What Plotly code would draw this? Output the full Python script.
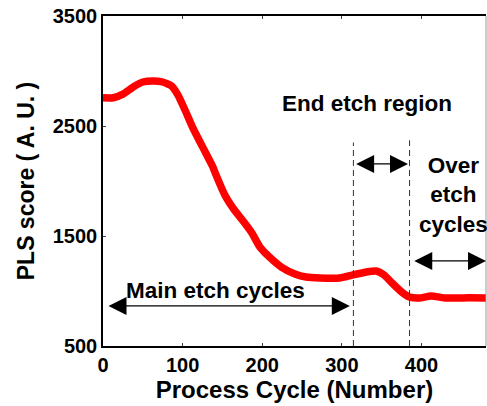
import plotly.graph_objects as go

# Data
cycle = [0, 13, 25, 38, 50, 63, 75, 86, 94, 103, 113, 125, 138, 140, 153, 165, 175,
         187, 197, 209, 224, 241, 255, 272, 297, 313, 331, 343, 353, 363, 375, 385,
         397, 412, 431, 460, 481]
pls = [2757, 2757, 2790, 2855, 2900, 2910, 2900, 2864, 2782, 2645, 2480, 2310, 2127,
       2090, 1873, 1736, 1645, 1527, 1400, 1309, 1218, 1155, 1127, 1118, 1118, 1145,
       1173, 1182, 1145, 1073, 991, 945, 936, 955, 936, 938, 936]

x_ticks = [0, 100, 200, 300, 400]
y_ticks = [500, 1500, 2500, 3500]

boundaries = [314.5, 385]
boundary_tops = [2350, 2370]

font_family = "Liberation Sans, Arial, sans-serif"

fig = go.Figure()
fig.add_trace(go.Scatter(x=cycle, y=pls, mode="lines",
                         line=dict(color="#ff0000", width=7.5, shape="spline", smoothing=0.5),
                         showlegend=False, hoverinfo="skip"))

for bx, top in zip(boundaries, boundary_tops):
    fig.add_shape(type="line", x0=bx, x1=bx, y0=500, y1=top, xref="x", yref="y",
                  line=dict(color="#333333", width=1, dash="6px,4px"))

# right frame (light)
fig.add_shape(type="line", xref="paper", yref="paper", x0=1, x1=1, y0=0, y1=1,
              line=dict(color="#999999", width=1))

arrow_kw = dict(showarrow=True, arrowside="end+start", arrowhead=2, arrowsize=3,
                arrowwidth=1.2, arrowcolor="black", axref="x", ayref="y",
                xref="x", yref="y", text="", standoff=0, startstandoff=0)
# Main etch arrow
fig.add_annotation(x=310, y=864, ax=5, ay=864, **arrow_kw)
# End etch arrow
fig.add_annotation(x=383, y=2155, ax=316, ay=2155, **arrow_kw)
# Over etch arrow
fig.add_annotation(x=481, y=1273, ax=389, ay=1273, **arrow_kw)

txt_font = dict(family=font_family, size=22.5, color="black", weight="bold")
fig.add_annotation(x=331, y=2709, text="End etch region", showarrow=False,
                   xref="x", yref="y", font=txt_font)
fig.add_annotation(x=141, y=1009, text="Main etch cycles", showarrow=False,
                   xref="x", yref="y", font=txt_font)
fig.add_annotation(x=440, y=1873, text="Over<br>etch<br>cycles", showarrow=False,
                   xref="x", yref="y", font=txt_font)

fig.update_layout(
    width=487, height=406,
    margin=dict(l=103, r=1, t=16, b=60),
    paper_bgcolor="white", plot_bgcolor="white",
    font=dict(family=font_family, size=20, color="black", weight="bold"),
    xaxis=dict(range=[0, 481], tickvals=x_ticks, ticks="inside", ticklen=3,
               showline=True, linecolor="black", linewidth=1.5, mirror="ticks",
               showgrid=False, zeroline=False,
               title=dict(text="Process Cycle (Number)", standoff=4,
                          font=dict(size=24, weight="bold"))),
    yaxis=dict(range=[500, 3500], tickvals=y_ticks, ticks="inside", ticklen=3,
               showline=True, linecolor="black", linewidth=1.5,
               showgrid=False, zeroline=False,
               title=dict(text="PLS score ( A. U. )", standoff=12,
                          font=dict(size=23, weight="bold"))),
)

fig.write_html("out.html")
